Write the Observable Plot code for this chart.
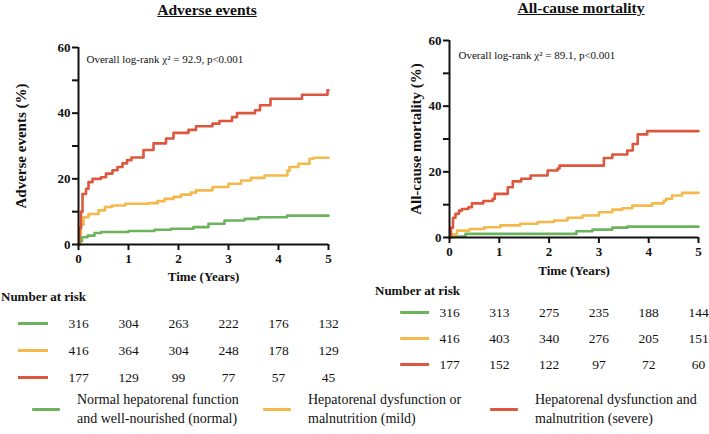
<!DOCTYPE html>
<html><head><meta charset="utf-8">
<script src="https://cdn.jsdelivr.net/npm/d3@7"></script>
<script src="https://cdn.jsdelivr.net/npm/@observablehq/plot@0.6"></script>
<style>
body{margin:0;background:#fff;}
#root{position:relative;width:709px;height:434px;overflow:hidden;font-family:'Liberation Serif','DejaVu Serif','Noto Serif',Tinos,'Times New Roman',Times,serif;color:#111;background:#fff;}
.title{font-weight:bold;font-size:15.5px;text-decoration:underline;white-space:nowrap;transform:translateX(-50%);}
.nar{font-weight:bold;font-size:13px;white-space:nowrap;}
.sw{position:absolute;width:28px;height:3px;border-radius:1px;}
.lt{position:absolute;font-size:14px;line-height:19px;white-space:nowrap;}
svg{overflow:visible;}
</style></head><body><div id="root"></div>
<script>
// ---------- data ----------
const groups = ["normal", "mild", "severe"];
const colors = ["#6cb35e", "#f4b94a", "#dc573d"];
const years = [0, 1, 2, 3, 4, 5];
const legendLabels = [
  ["Normal hepatorenal function", "and well-nourished (normal)"],
  ["Hepatorenal dysfunction or", "malnutrition (mild)"],
  ["Hepatorenal dysfunction and", "malnutrition (severe)"]
];
const titles = ["Adverse events", "All-cause mortality"];
const yLabels = ["Adverse events (%)", "All-cause mortality (%)"];
const notes = ["Overall log-rank \u03c7\u00b2 = 92.9, p<0.001", "Overall log-rank \u03c7\u00b2 = 89.1, p<0.001"];

// Adverse events: cumulative incidence (%) step curves
const aeNormalT = [0, 0.03, 0.07, 0.18, 0.32, 0.45, 1.0, 1.52, 1.85, 2.3, 2.6, 2.92, 3.32, 3.6, 4.17, 5];
const aeNormalV = [0, 1, 2.2, 2.7, 3.5, 3.8, 4.1, 4.5, 4.8, 5.3, 6.3, 7.3, 7.8, 8.3, 8.8, 8.8];
const aeMildT = [0, 0.02, 0.05, 0.1, 0.2, 0.4, 0.53, 0.67, 0.93, 1.4, 1.58, 1.72, 1.9, 2.05, 2.25, 2.35, 2.68, 3.0, 3.25, 3.45, 3.72, 4.18, 4.22, 4.4, 4.62, 4.7, 5];
const aeMildV = [0, 3, 6, 8.3, 9.3, 10.4, 11.4, 11.9, 12.4, 12.6, 13.2, 13.9, 14.5, 15.2, 15.8, 16.5, 17.5, 18.5, 19.5, 20.3, 21, 22.5, 23.6, 24.6, 26.1, 26.4, 26.4];
const aeSevereT = [0, 0.02, 0.05, 0.08, 0.15, 0.2, 0.28, 0.45, 0.55, 0.68, 0.78, 0.88, 0.97, 1.06, 1.3, 1.5, 1.75, 1.9, 2.2, 2.35, 2.68, 2.82, 3.07, 3.17, 3.53, 3.63, 3.84, 4.47, 4.98, 5];
const aeSevereV = [0, 5, 10, 15.4, 17, 19, 20, 20.5, 21.6, 22.6, 23.6, 24.7, 25.7, 26.5, 28.8, 30.8, 32.3, 34, 34.9, 36, 36.8, 37.6, 38.8, 40, 40.9, 42.4, 44.4, 45.6, 47, 47];

// All-cause mortality
const mNormalT = [0, 0.02, 0.32, 2.55, 2.87, 3.27, 3.57, 5];
const mNormalV = [0, 0.3, 1.1, 1.9, 2.4, 3.0, 3.3, 3.3];
const mMildT = [0, 0.05, 0.15, 0.4, 0.7, 1.02, 1.42, 1.77, 2.1, 2.37, 2.67, 3.0, 3.27, 3.47, 3.67, 4.07, 4.3, 4.35, 4.47, 4.67, 5];
const mMildV = [0, 1, 2.1, 2.6, 3.1, 3.7, 4.2, 4.7, 5.2, 6, 6.7, 7.7, 8.5, 8.9, 9.7, 10.4, 11.2, 11.8, 12.8, 13.6, 13.6];
const mSevereT = [0, 0.03, 0.07, 0.12, 0.19, 0.25, 0.38, 0.45, 0.68, 0.87, 0.91, 1.17, 1.27, 1.44, 1.63, 1.97, 2.17, 2.21, 3.1, 3.27, 3.57, 3.68, 3.78, 3.97, 5];
const mSevereV = [0, 3, 6, 7.2, 8.2, 8.7, 9.2, 10.4, 11.1, 11.8, 13.3, 15.3, 17.1, 17.9, 18.9, 20.4, 21, 21.9, 24.2, 25.3, 26.5, 28.5, 31.4, 32.4, 32.4];

// Number at risk
const aeRiskNormal = [316, 304, 263, 222, 176, 132];
const aeRiskMild = [416, 364, 304, 248, 178, 129];
const aeRiskSevere = [177, 129, 99, 77, 57, 45];
const mRiskNormal = [316, 313, 275, 235, 188, 144];
const mRiskMild = [416, 403, 340, 276, 205, 151];
const mRiskSevere = [177, 152, 122, 97, 72, 60];

// ---------- helpers ----------
const FONT = "'Liberation Serif','DejaVu Serif','Noto Serif',Tinos,'Times New Roman',Times,serif";
const root = document.getElementById("root");
function series(ts, vs, g) { return ts.map((t, i) => ({t, v: vs[i], g})); }
function place(el, left, top) { el.style.position = "absolute"; el.style.left = left + "px"; el.style.top = top + "px"; root.appendChild(el); return el; }

function panel(data, {width, height, marginLeft, marginRight, marginTop, marginBottom, yLabel, yLabelDx, note, noteDx, noteDy, xLabelDy}) {
  return Plot.plot({
    width, height, marginLeft, marginRight, marginTop, marginBottom,
    style: {fontFamily: FONT, fontSize: "13px", fontWeight: "bold", color: "#111", background: "transparent"},
    x: {domain: [0, 5]},
    y: {domain: [0, 60]},
    color: {domain: groups, range: colors},
    marks: [
      Plot.line(data, {x: "t", y: "v", z: "g", stroke: "g", curve: "step-after", strokeWidth: 2.6}),
      Plot.ruleX([0], {y1: 0, y2: 60, stroke: "#111", strokeWidth: 2}),
      Plot.ruleY([0], {x1: 0, x2: 5, stroke: "#111", strokeWidth: 2}),
      Plot.axisX({ticks: years, tickFormat: d => String(d), tickSize: 6, strokeWidth: 2, tickPadding: 3, label: null, stroke: "#111"}),
      Plot.axisY({ticks: [0, 10, 20, 30, 40, 50, 60], tickFormat: d => d % 20 === 0 ? String(d) : "", tickSize: 6, strokeWidth: 2, tickPadding: 2, label: null, stroke: "#111"}),
      Plot.text(["Time (Years)"], {frameAnchor: "bottom", textAnchor: "middle", dy: xLabelDy, fontSize: 13, fontWeight: "bold"}),
      Plot.text([yLabel], {frameAnchor: "left", textAnchor: "middle", rotate: -90, dx: yLabelDx, fontSize: 15, fontWeight: "bold"}),
      Plot.text([note], {frameAnchor: "top-left", textAnchor: "start", dx: noteDx, dy: noteDy, fontSize: 11, fontWeight: "normal"})
    ]
  });
}

function riskTable(rows, {width, height, xRange, yRange, sw}) {
  const data = rows.flatMap((r, gi) => r.map((n, i) => ({g: groups[gi], t: years[i], n})));
  return Plot.plot({
    width, height, margin: 0,
    style: {fontFamily: FONT, fontSize: "13px", color: "#111", background: "transparent"},
    x: {domain: [0, 5], range: xRange, axis: null},
    y: {type: "point", domain: groups, range: yRange, padding: 0, axis: null},
    color: {domain: groups, range: colors},
    marks: [
      Plot.ruleY(groups, {y: d => d, x1: sw[0], x2: sw[1], stroke: d => d, strokeWidth: 3}),
      Plot.text(data, {x: "t", y: "g", text: "n", fontSize: 13.5, fill: "#111"})
    ]
  });
}

// ---------- panels ----------
const aeData = [
  ...series(aeNormalT, aeNormalV, "normal"),
  ...series(aeMildT, aeMildV, "mild"),
  ...series(aeSevereT, aeSevereV, "severe")
];
const mData = [
  ...series(mNormalT, mNormalV, "normal"),
  ...series(mMildT, mMildV, "mild"),
  ...series(mSevereT, mSevereV, "severe")
];

place(panel(aeData, {width: 360, height: 294, marginLeft: 78, marginRight: 32, marginTop: 47, marginBottom: 50,
  yLabel: yLabels[0], yLabelDx: -57, note: notes[0], noteDx: 8, noteDy: 8, xLabelDy: 36}), 0, 0);
place(panel(mData, {width: 349, height: 287, marginLeft: 89, marginRight: 11, marginTop: 40, marginBottom: 50,
  yLabel: yLabels[1], yLabelDx: -33, note: notes[1], noteDx: 9, noteDy: 11, xLabelDy: 37}), 360, 0);

// titles
titles.forEach((t, i) => {
  const d = document.createElement("div");
  d.className = "title"; d.textContent = t;
  place(d, i === 0 ? 207 : 581, i === 0 ? 1 : -1);
});

// number at risk
["Number at risk", "Number at risk"].forEach((t, i) => {
  const d = document.createElement("div");
  d.className = "nar"; d.textContent = t;
  place(d, i === 0 ? 1 : 375, i === 0 ? 289 : 283);
});
// table x positions follow each panel's time axis (years 0..5)
place(riskTable([aeRiskNormal, aeRiskMild, aeRiskSevere], {width: 360, height: 90, xRange: [78, 328], yRange: [18, 72], sw: [-1.2, -0.6]}), 0, 305);
place(riskTable([mRiskNormal, mRiskMild, mRiskSevere], {width: 349, height: 90, xRange: [89, 338], yRange: [11, 64], sw: [-0.98, -0.4]}), 360, 300);

// legend
const legX = [32, 263, 490];
groups.forEach((g, i) => {
  const s = document.createElement("div");
  s.className = "sw"; s.style.background = colors[i];
  place(s, legX[i], 408);
  const t = document.createElement("div");
  t.className = "lt"; t.innerHTML = legendLabels[i].join("<br>");
  place(t, legX[i] + 45, 390);
});
</script></body></html>
